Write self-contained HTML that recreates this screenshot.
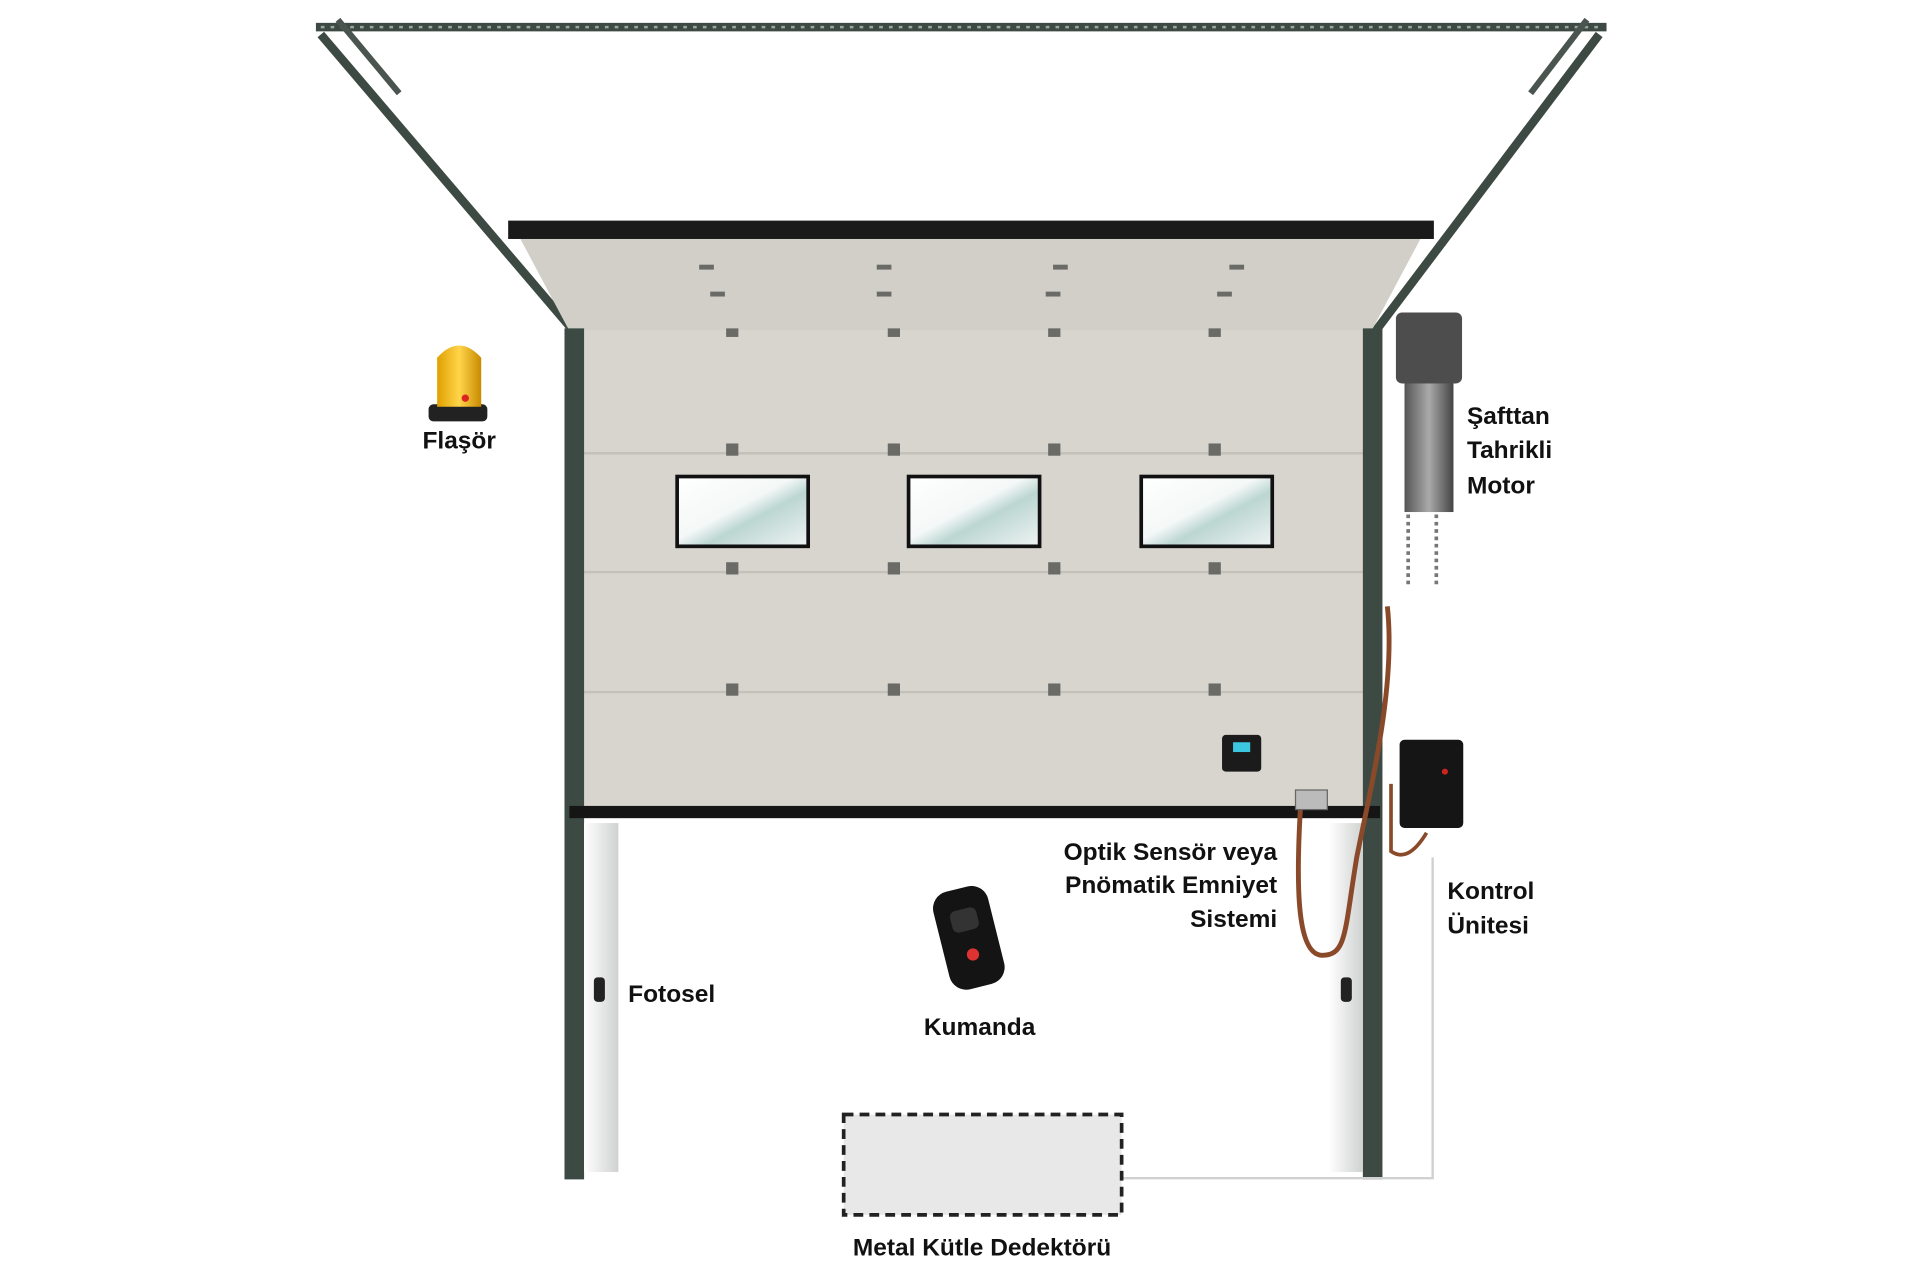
<!DOCTYPE html>
<html><head><meta charset="utf-8"><style>
html,body{margin:0;padding:0;background:#fff;}
svg{display:block;}
text{font-family:"Liberation Sans",sans-serif;font-weight:bold;font-size:20px;fill:#111;}
</style></head><body>
<svg width="1920" height="1280" viewBox="0 0 1568 1045" xmlns="http://www.w3.org/2000/svg">
<defs>
<linearGradient id="win" x1="0" y1="0" x2="1" y2="1">
<stop offset="0" stop-color="#ffffff"/><stop offset="0.45" stop-color="#f4f8f7"/><stop offset="0.6" stop-color="#bcd6d2"/><stop offset="1" stop-color="#eef4f3"/></linearGradient>
<linearGradient id="jamb" x1="0" x2="1"><stop offset="0" stop-color="#fff"/><stop offset="1" stop-color="#cfd2d0"/></linearGradient>
<linearGradient id="lamp" x1="0" x2="1"><stop offset="0" stop-color="#e0a000"/><stop offset="0.5" stop-color="#ffd54a"/><stop offset="1" stop-color="#c88a00"/></linearGradient>
<linearGradient id="mot" x1="0" x2="1"><stop offset="0" stop-color="#555"/><stop offset="0.5" stop-color="#aaa"/><stop offset="1" stop-color="#444"/></linearGradient>
</defs>
<rect width="1568" height="1045" fill="#fff"/>
<!-- top rail -->
<line x1="258" y1="22" x2="1312" y2="22" stroke="#3d4a44" stroke-width="7"/>
<line x1="262" y1="22" x2="1308" y2="22" stroke="#9aa59f" stroke-width="2" stroke-dasharray="3 5"/>
<line x1="262" y1="28" x2="470" y2="272" stroke="#3d4a44" stroke-width="7"/>
<line x1="1306" y1="28" x2="1122" y2="272" stroke="#3d4a44" stroke-width="7"/>
<line x1="276" y1="16" x2="326" y2="76" stroke="#4a5550" stroke-width="5"/>
<line x1="1296" y1="16" x2="1250" y2="76" stroke="#4a5550" stroke-width="5"/>
<!-- top tilted panel -->
<polygon points="425,195 1160,195 1120,270 465,270" fill="#d2cfc8"/>
<rect x="415" y="180" width="756" height="15" fill="#1a1a1a"/>
<!-- main door -->
<rect x="475" y="270" width="640" height="390" fill="#d8d5ce"/>
<line x1="475" y1="370" x2="1115" y2="370" stroke="#c4c1ba" stroke-width="2"/>
<line x1="475" y1="467" x2="1115" y2="467" stroke="#c4c1ba" stroke-width="2"/>
<line x1="475" y1="565" x2="1115" y2="565" stroke="#c4c1ba" stroke-width="2"/>
<g fill="#6a6a66">
<rect x="571" y="216" width="12" height="4"/><rect x="716" y="216" width="12" height="4"/><rect x="860" y="216" width="12" height="4"/><rect x="1004" y="216" width="12" height="4"/>
<rect x="580" y="238" width="12" height="4"/><rect x="716" y="238" width="12" height="4"/><rect x="854" y="238" width="12" height="4"/><rect x="994" y="238" width="12" height="4"/>
<rect x="593" y="268" width="10" height="7"/><rect x="725" y="268" width="10" height="7"/><rect x="856" y="268" width="10" height="7"/><rect x="987" y="268" width="10" height="7"/>
<rect x="593" y="362" width="10" height="10"/><rect x="725" y="362" width="10" height="10"/><rect x="856" y="362" width="10" height="10"/><rect x="987" y="362" width="10" height="10"/>
<rect x="593" y="459" width="10" height="10"/><rect x="725" y="459" width="10" height="10"/><rect x="856" y="459" width="10" height="10"/><rect x="987" y="459" width="10" height="10"/>
<rect x="593" y="558" width="10" height="10"/><rect x="725" y="558" width="10" height="10"/><rect x="856" y="558" width="10" height="10"/><rect x="987" y="558" width="10" height="10"/>
</g>
<rect x="553" y="389" width="107" height="57" fill="url(#win)" stroke="#111" stroke-width="3"/>
<rect x="742" y="389" width="107" height="57" fill="url(#win)" stroke="#111" stroke-width="3"/>
<rect x="932" y="389" width="107" height="57" fill="url(#win)" stroke="#111" stroke-width="3"/>
<!-- tracks -->
<rect x="461" y="268" width="16" height="695" fill="#3d4a44"/>
<rect x="1113" y="268" width="16" height="695" fill="#3d4a44"/>
<rect x="465" y="658" width="662" height="10" fill="#151515"/>
<!-- jambs -->
<rect x="477" y="672" width="28" height="285" fill="url(#jamb)"/>
<rect x="1085" y="672" width="28" height="285" fill="url(#jamb)"/>
<rect x="485" y="798" width="9" height="20" rx="3" fill="#222"/>
<rect x="1095" y="798" width="9" height="20" rx="3" fill="#222"/>
<!-- lines to detector -->
<polyline points="916,962 1170,962 1170,700" fill="none" stroke="#cfd2d0" stroke-width="2"/>
<!-- flasher -->
<rect x="350" y="330" width="48" height="14" rx="4" fill="#222"/>
<path d="M357,332 L357,292 Q375,272 393,292 L393,332 Z" fill="url(#lamp)"/>
<circle cx="380" cy="325" r="3" fill="#d22"/>
<text x="375" y="366" text-anchor="middle">Flaşör</text>
<!-- motor -->
<rect x="1140" y="255" width="54" height="58" rx="5" fill="#4d4d4d"/>
<rect x="1147" y="313" width="40" height="105" fill="url(#mot)"/>
<line x1="1150" y1="420" x2="1150" y2="478" stroke="#777" stroke-width="3" stroke-dasharray="3 3"/>
<line x1="1173" y1="420" x2="1173" y2="478" stroke="#777" stroke-width="3" stroke-dasharray="3 3"/>
<text x="1198" y="346">Şafttan</text>
<text x="1198" y="374">Tahrikli</text>
<text x="1198" y="403">Motor</text>
<!-- cable -->
<path d="M1133,495 C1140,560 1120,640 1108,700 C1098,760 1100,780 1080,780 C1060,780 1058,730 1062,660" fill="none" stroke="#8a4a2a" stroke-width="4"/>
<path d="M1136,640 L1136,695 Q1150,705 1165,680" fill="none" stroke="#8a4a2a" stroke-width="3"/>
<rect x="1058" y="645" width="26" height="16" fill="#bbb" stroke="#666"/>
<!-- control unit -->
<rect x="1143" y="604" width="52" height="72" rx="4" fill="#151515"/>
<circle cx="1180" cy="630" r="2.5" fill="#c22"/>
<text x="1182" y="734">Kontrol</text>
<text x="1182" y="762">Ünitesi</text>
<!-- sensor -->
<rect x="998" y="600" width="32" height="30" rx="3" fill="#1b1b1b"/>
<rect x="1007" y="606" width="14" height="8" fill="#3cc6e0"/>
<text x="1043" y="702" text-anchor="end">Optik Sensör veya</text>
<text x="1043" y="729" text-anchor="end">Pnömatik Emniyet</text>
<text x="1043" y="757" text-anchor="end">Sistemi</text>
<!-- remote -->
<g transform="rotate(-14 790 765)">
<rect x="768" y="725" width="46" height="82" rx="14" fill="#141414"/>
<circle cx="791" cy="780" r="5" fill="#d33"/>
<rect x="780" y="742" width="22" height="18" rx="5" fill="#333"/>
</g>
<text x="800" y="845" text-anchor="middle">Kumanda</text>
<text x="513" y="818">Fotosel</text>
<!-- detector -->
<rect x="689" y="910" width="227" height="82" fill="#e8e8e8" stroke="#222" stroke-width="3" stroke-dasharray="8 5"/>
<text x="802" y="1025" text-anchor="middle">Metal Kütle Dedektörü</text>
</svg>
</body></html>
